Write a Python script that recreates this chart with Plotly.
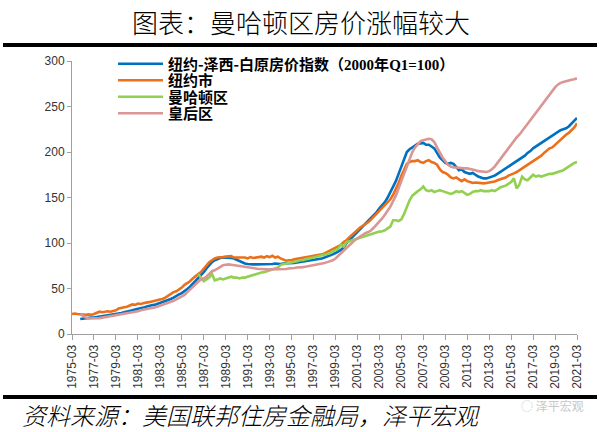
import plotly.graph_objects as go

# ---------------- data (quarterly, 1975Q1 .. 2021Q1) ----------------
START_YEAR = 1975
END_YEAR = 2021
MONTHS = ["03", "06", "09", "12"]

TICK_LABELS = ["1975-03", "1977-03", "1979-03", "1981-03", "1983-03", "1985-03",
               "1987-03", "1989-03", "1991-03", "1993-03", "1995-03", "1997-03",
               "1999-03", "2001-03", "2003-03", "2005-03", "2007-03", "2009-03",
               "2011-03", "2013-03", "2015-03", "2017-03", "2019-03", "2021-03"]

N = None
nyc_metro = [
    N, N, N, 16.5,
    17, 17, 17.5, 18,
    18, 18.5, 19, 19,
    19.5, 20, 20.5, 21,
    21.5, 22.5, 23, 24,
    24.5, 25.5, 26, 27,
    27.5, 28, 29, 30,
    31, 31.5, 32, 33,
    34, 35, 36, 37,
    38.5, 40, 42, 43.5,
    45, 47, 49.5, 52,
    55, 58, 61, 64,
    68, 72, 76, 79,
    81, 82.5, 83.5, 84,
    84, 84, 83.5, 83,
    81.5, 80, 78.5, 77.5,
    77, 76.5, 76.5, 76.5,
    76.5, 77, 77, 76.5,
    77, 77, 77.5, 77,
    77, 77.5, 77.5, 78,
    78, 78, 78.5, 79,
    79, 79.5, 80, 80.5,
    81, 81.5, 82, 83,
    84, 85, 86, 87.5,
    89, 90.5, 92.5, 95,
    100, 103, 106, 109,
    112, 115, 118, 121,
    124, 127, 130, 134,
    138, 141, 145, 150,
    156, 162, 168, 176,
    184, 194, 200, 203,
    205, 207, 209, 209.5,
    210, 208, 208, 206,
    204, 199, 194, 191,
    188, 187, 188, 187,
    183, 180, 181, 178,
    177, 176, 177, 175,
    173, 172, 171, 171,
    172, 173, 174, 176,
    178, 180, 182, 184,
    186, 188, 190, 192,
    194, 196, 199, 201,
    204, 206, 208, 210,
    212, 214, 216, 218,
    220, 222, 224, 225,
    226, 228, 231, 234,
    237.5,
]

nyc_city = [
    22, 22.5, 22, 21.5,
    21, 21, 21.5, 21,
    22, 23, 24.5, 24,
    24.5, 25, 24.5, 25,
    26, 28, 29, 29.5,
    30, 31, 32.5, 32,
    33.5, 33, 34, 34.5,
    35, 35.5, 36, 37,
    38, 38.5, 40, 42,
    44, 46, 47, 49,
    51, 54, 56, 58,
    61, 64, 66, 68,
    72, 75, 79, 81,
    83, 84, 84, 84.5,
    85, 85, 85.5, 84,
    84, 83.5, 84, 84,
    83, 84.5, 83.5, 84,
    84, 85, 84, 85.5,
    84.5, 86, 84, 85,
    83, 81.5, 80.5, 81,
    81, 82, 82.5, 83,
    83.5, 84, 84.5, 85,
    85.5, 86, 86.5, 87.5,
    88.5, 90, 91.5, 93,
    94.5, 96, 98, 101,
    103, 106, 109, 112,
    115, 117, 119, 121,
    123, 126, 129, 132,
    135, 138, 141, 144,
    148, 153, 159, 166,
    174, 181, 187, 189,
    190, 190, 191, 189,
    188, 190, 191, 189,
    188, 186, 181, 178,
    177, 175, 172, 171,
    172, 170, 168, 170,
    168, 167, 166, 166.5,
    166, 166, 165.5, 166,
    166.5, 167, 167.5, 169,
    170, 171, 172, 174,
    175, 176.5, 178, 180,
    182, 184, 186, 188,
    190, 192, 194, 196,
    199, 202, 204, 205,
    208, 211, 213, 216,
    219, 221, 224, 227,
    231.5,
]

manhattan = [
    N, N, N, N,
    N, N, N, N,
    N, N, N, N,
    N, N, N, N,
    N, N, N, N,
    N, N, N, N,
    N, N, N, N,
    N, N, N, N,
    N, N, N, N,
    N, N, N, N,
    N, N, N, N,
    N, N, 66, 62,
    58, 60, 62, 66,
    59, 60, 61, 60,
    61, 62, 63, 62,
    62, 61, 62, 62,
    63, 64, 65, 66,
    67, 67.5, 68, 69,
    70, 71, 72, 73,
    76, 77, 77.5, 78,
    78.5, 79, 80, 81,
    81, 82, 82.5, 83,
    84, 85, 86, 86.5,
    87, 88, 89, 91,
    92, 94, 98, 96,
    101, 102, 103, 104,
    105, 106, 107, 108,
    109, 110, 111, 112,
    112.5, 113, 114, 116,
    118, 125, 125, 124,
    126, 132, 140, 147,
    152, 155, 157, 159,
    162, 158, 157, 158,
    156, 157, 158, 157,
    156, 155, 154, 155,
    157, 156, 157, 155,
    153, 154, 156, 157,
    157, 158, 157, 157,
    157, 158, 157, 159,
    161, 162, 163, 165,
    167, 171, 160, 164,
    173, 170, 169, 172,
    175, 173, 174, 173,
    174, 175, 176, 176,
    177, 178, 179, 180,
    182, 184, 186, 188,
    189,
]

queens = [
    N, N, N, 22,
    20, 18, 17, 17,
    17, 17, 17.5, 18,
    18.5, 19, 19.5, 20,
    20.5, 21, 21.5, 22,
    22.5, 23, 24, 24.5,
    25, 26, 26.5, 27,
    28, 28.5, 29, 30,
    31, 32, 33, 34,
    35, 36.5, 38, 39.5,
    41, 43, 46, 49,
    52, 55, 58, 60,
    61, 63, 66, 69,
    70, 72, 74, 75.5,
    76, 76.5, 76, 75.5,
    75, 74.5, 74, 73.5,
    73, 72.5, 72, 72,
    71.5, 71.5, 71, 71,
    71, 71, 71, 71,
    71, 71.5, 71.5, 72,
    72, 72.5, 73, 73,
    73.5, 74, 74.5, 75,
    75.5, 76, 76.5, 77,
    78, 79, 80, 81,
    83, 86, 89, 92,
    95, 97, 100, 103,
    105, 107, 109, 111,
    112, 114, 117, 120,
    123, 127, 131, 135,
    140, 146, 152, 160,
    168, 176, 184, 192,
    200, 205, 209, 212,
    213, 214, 214.5, 214,
    211, 205, 199, 194,
    190, 186, 184, 183,
    183, 182.5, 182, 182,
    182, 181.5, 181, 180,
    179, 178.5, 178, 178,
    179, 181, 184, 188,
    193, 197, 201, 205,
    209, 212, 216, 219,
    223, 227, 231, 235,
    240, 244, 248, 252,
    256, 260, 264, 268,
    271, 274, 276, 277,
    278, 279, 279.5, 280,
    281,
]

SERIF = "font-family:'Liberation Serif','Times New Roman',serif"
SERIES_NAMES = [
    f"纽约-泽西-白原房价指数（<span style=\"{SERIF}\">2000</span>年<span style=\"{SERIF}\">Q1=100</span>）",
    "纽约市", "曼哈顿区", "皇后区",
]
SERIES_COLORS = ["#0070C0", "#EC7019", "#92D050", "#D99694"]

# categories
quarters = [f"{y}-{m}" for y in range(START_YEAR, END_YEAR + 1) for m in MONTHS]
quarters = quarters[:len(nyc_city)]

# ---------------- figure ----------------
W, H = 600, 432
L, R, T, B = 72, 23, 61, 98
pw, ph = W - L - R, H - T - B


def px_x(px):
    return (px - L) / pw


def px_y(py):
    return (H - B - py) / ph


legend_keys = ["legend", "legend2", "legend3", "legend4"]
legend_rows = [64, 80.5, 97, 113.5]

fig = go.Figure()
for vals, name, col, lk in zip([nyc_metro, nyc_city, manhattan, queens],
                               SERIES_NAMES, SERIES_COLORS, legend_keys):
    fig.add_trace(go.Scatter(x=quarters, y=vals, name=name, mode="lines",
                             line=dict(color=col, width=2.6), connectgaps=False,
                             legend=lk, hoverinfo="skip"))

legend_font = dict(family="Noto Sans CJK SC", size=15, color="#000000", weight="bold")
layout_legends = {}
for lk, row in zip(legend_keys, legend_rows):
    layout_legends[lk] = dict(x=px_x(113), y=px_y(row), xanchor="left", yanchor="middle",
                              bgcolor="rgba(0,0,0,0)", itemwidth=45,
                              font=legend_font)

fig.update_layout(
    width=W, height=H,
    margin=dict(l=L, r=R, t=T, b=B),
    paper_bgcolor="white", plot_bgcolor="white",
    font=dict(family="Liberation Sans, Arial, sans-serif", color="#333333"),
    showlegend=True,
    hovermode=False,
    **layout_legends,
)
fig.update_xaxes(type="category", categoryorder="array", categoryarray=quarters,
                 range=[0, len(quarters) - 1],
                 tickmode="array", tickvals=TICK_LABELS, ticktext=TICK_LABELS,
                 tickangle=-90, ticks="outside", ticklen=5, tickcolor="#A0A0A0",
                 showline=True, linecolor="#A0A0A0", linewidth=1,
                 showgrid=False, zeroline=False,
                 tickfont=dict(size=12, color="#333333"))
fig.update_yaxes(range=[0, 300], dtick=50, ticks="outside", ticklen=4, tickcolor="#A0A0A0",
                 showline=True, linecolor="#A0A0A0", linewidth=1,
                 showgrid=False, zeroline=False,
                 tickfont=dict(size=12, color="#333333"))

# title and separator lines
fig.add_annotation(text="图表：曼哈顿区房价涨幅较大", xref="paper", yref="paper",
                   x=px_x(301), y=px_y(21), xanchor="center", yanchor="middle",
                   showarrow=False,
                   font=dict(family="Noto Sans CJK SC", size=26, color="#000000", weight=300))
fig.add_shape(type="line", xref="paper", yref="paper",
              x0=px_x(3), x1=px_x(597), y0=px_y(45), y1=px_y(45),
              line=dict(color="black", width=4))
fig.add_shape(type="line", xref="paper", yref="paper",
              x0=px_x(3), x1=px_x(597), y0=px_y(397), y1=px_y(397),
              line=dict(color="black", width=4))
fig.add_annotation(text="资料来源：美国联邦住房金融局，泽平宏观", xref="paper", yref="paper",
                   x=px_x(20), y=px_y(414), xanchor="left", yanchor="middle",
                   showarrow=False,
                   font=dict(family="Noto Sans CJK SC", size=24, color="#000000", style="italic",
                             weight=300))
fig.add_annotation(text="◌ 泽平宏观", xref="paper", yref="paper",
                   x=px_x(552), y=px_y(405), xanchor="center", yanchor="middle",
                   showarrow=False,
                   font=dict(family="Noto Sans CJK SC", size=12, color="#C8C8C8"))

fig.write_html("out.html", config={"displayModeBar": False, "staticPlot": True},
               post_script="document.body.style.margin='0px';")
